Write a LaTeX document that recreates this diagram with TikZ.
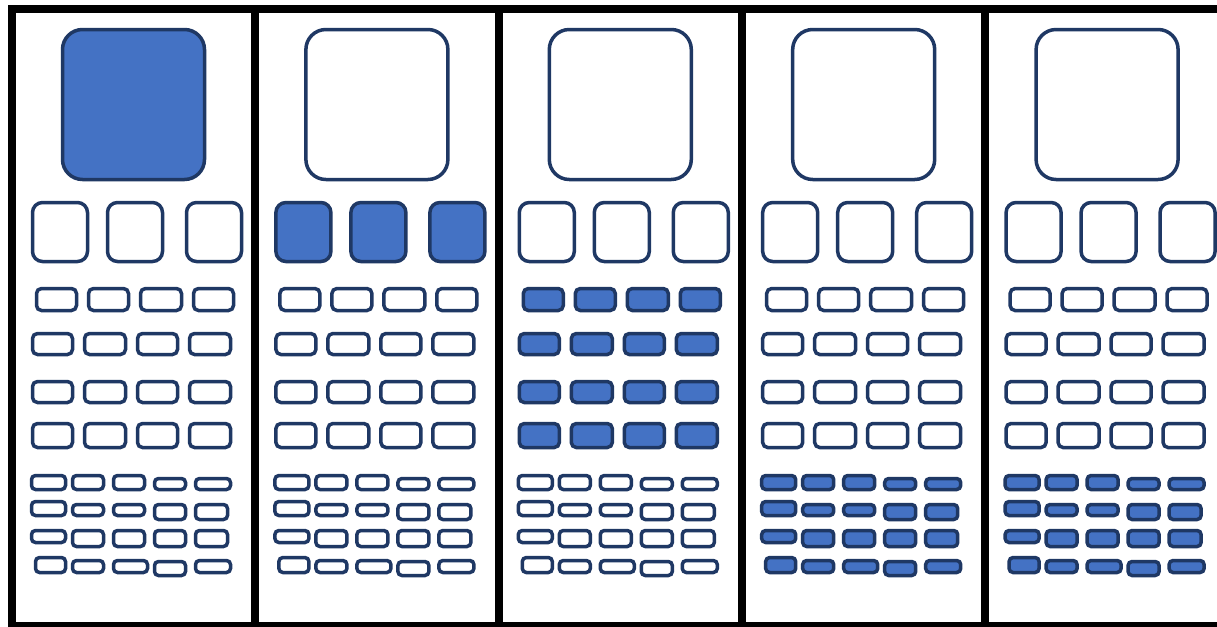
\documentclass[tikz,border=0pt]{standalone}
\usepackage{xcolor}
\definecolor{cellblue}{RGB}{68,114,196}
\definecolor{navy}{RGB}{31,56,100}

\begin{document}
\begin{tikzpicture}[
      x=0.5pt, y=-0.5pt,
      celloff/.style={draw=navy, line width=1.75pt, fill=white},
      cellon/.style={draw=navy, line width=1.75pt, fill=cellblue},
      frame/.style={draw=black, line width=4pt}
    ]
    \clip (0,0) rectangle (1217,627);
    \fill[white] (0,0) rectangle (1217,627);

    % one column per stage, the filled group moves down
    \foreach \p/\fbig/\fmed/\fgrid/\fbot in {0/on/off/off/off, 1/off/on/off/off,
        2/off/off/on/off, 3/off/off/off/on, 4/off/off/off/on} {
      \begin{scope}[xshift=\p*121.7pt]
        \draw[cell\fbig, rounded corners=10pt] (62.5,29.5) rectangle (204.5,179.5);
        \foreach \xa/\xb in {32.5/87.5, 107.5/162.5, 186.5/241.5}
          \draw[cell\fmed, rounded corners=5pt] (\xa,202.5) rectangle (\xb,261.5);
        \foreach \xa/\xb in {36.5/76.5, 88.5/128.5, 140.5/181.5, 193.5/233.5}
          \draw[cell\fgrid, rounded corners=2.5pt] (\xa,288.5) rectangle (\xb,310.5);
        \foreach \ya/\yb in {333.5/354.5, 381.5/402.5, 423.5/447.5}
          \foreach \xa/\xb in {32.5/72.5, 84.5/125.5, 137.5/177.5, 189.5/230.5}
            \draw[cell\fgrid, rounded corners=2.5pt] (\xa,\ya) rectangle (\xb,\yb);
        % small mixed block
        \foreach \xa/\xb/\ya/\yb in {
            31.5/65.5/475.5/489.5, 72.5/103.5/475.5/489.5, 113.5/144.5/475.5/489.5,
            154.5/185.5/478.5/489.5, 195.5/230.5/478.5/489.5,
            31.5/65.5/501.5/515.5, 72.5/103.5/504.5/515.5, 113.5/144.5/504.5/515.5,
            154.5/185.5/504.5/519.5, 195.5/227.5/504.5/519.5,
            31.5/65.5/530.5/542.5, 72.5/103.5/530.5/546.5, 113.5/144.5/530.5/546.5,
            154.5/185.5/530.5/546.5, 195.5/227.5/530.5/546.5,
            35.5/65.5/557.5/572.5, 72.5/103.5/560.5/572.5, 113.5/147.5/560.5/572.5,
            154.5/185.5/561.5/575.5, 195.5/230.5/560.5/572.5}
          \draw[cell\fbot, rounded corners=2pt] (\xa,\ya) rectangle (\xb,\yb);
      \end{scope}
    }

    % frame and dividers
    \draw[frame] (12,9) rectangle (1229,626);
    \foreach \xd in {255, 499, 741.5, 985}
      \draw[frame] (\xd,9) -- (\xd,626);
  \end{tikzpicture}
\end{document}
